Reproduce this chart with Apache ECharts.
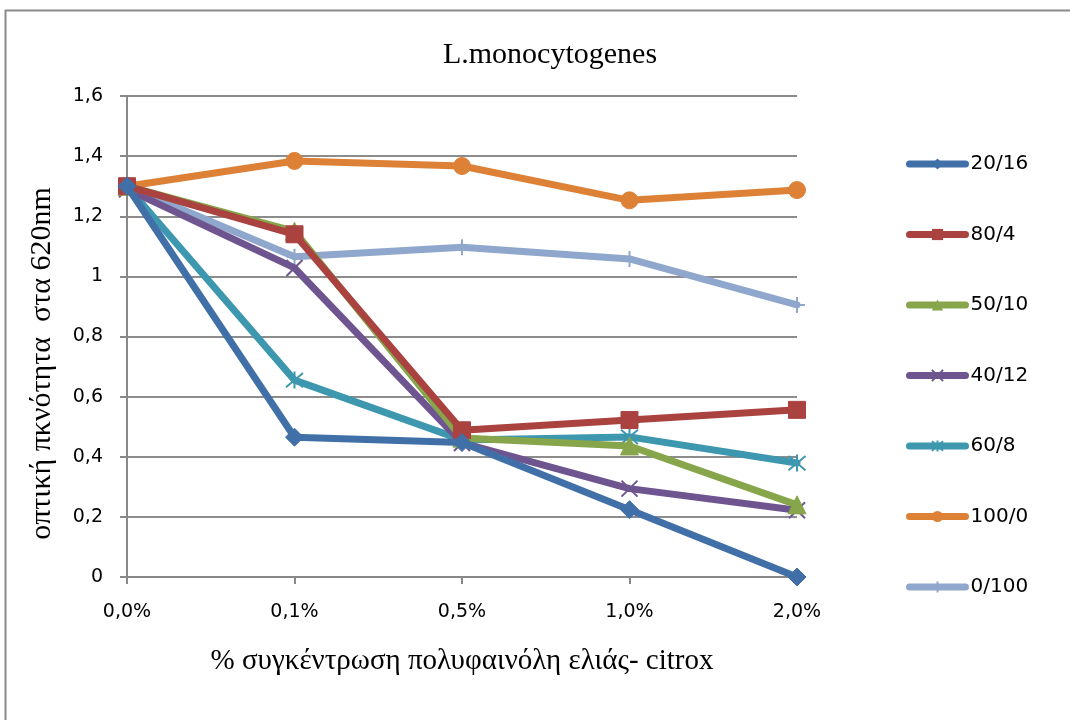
<!DOCTYPE html>
<html>
<head>
<meta charset="utf-8">
<script src="https://cdn.jsdelivr.net/npm/echarts@6/dist/echarts.min.js"></script>
<style>html,body{margin:0;padding:0;background:#fff}#c{width:1070px;height:720px}</style>
</head>
<body>
<div id="c"></div>
<script>
const categories = ['0,0%', '0,1%', '0,5%', '1,0%', '2,0%'];
const seriesNames = ['20/16', '80/4', '50/10', '40/12', '60/8', '100/0', '0/100'];
const s20_16 = [1.30, 0.465, 0.447, 0.224, 0.0];
const s80_4 = [1.30, 1.140, 0.488, 0.522, 0.556];
const s50_10 = [1.30, 1.150, 0.462, 0.436, 0.240];
const s40_12 = [1.29, 1.028, 0.446, 0.294, 0.222];
const s60_8 = [1.30, 0.655, 0.456, 0.466, 0.379];
const s100_0 = [1.30, 1.384, 1.367, 1.253, 1.287];
const s0_100 = [1.30, 1.065, 1.097, 1.058, 0.905];
const yTicks = [0, 0.2, 0.4, 0.6, 0.8, 1, 1.2, 1.4, 1.6];

const dataList = [s20_16, s80_4, s50_10, s40_12, s60_8, s100_0, s0_100];
const colors = ['#4170A8', '#AA4340', '#87A54A', '#6F558F', '#3D97AF', '#DD8136', '#8FA7CC'];
const xPath = 'path://M0,0L10,10M10,0L0,10';
const starPath = 'path://M0,0L10,10M10,0L0,10M5,-1L5,11';
const plusPath = 'path://M5,0L5,10M0,5L10,5';
const symbols = ['diamond', 'rect', 'triangle', xPath, starPath, 'circle', plusPath];
const sizes = [18, 17, 18, 16, 17, 17, 16];

const series = dataList.map((d, i) => {
  const isPath = symbols[i].startsWith('path://');
  return {
    name: seriesNames[i],
    type: 'line',
    data: d,
    symbol: symbols[i],
    symbolSize: sizes[i],
    showAllSymbol: true,
    z: 10 - i,
    lineStyle: { color: colors[i], width: 7, cap: 'round', join: 'round' },
    itemStyle: isPath ? { color: 'none', borderColor: colors[i], borderWidth: 2 } : { color: colors[i], borderColor: colors[i] },
    emphasis: { disabled: true },
    animation: false
  };
});

const chart = echarts.init(document.getElementById('c'));
chart.setOption({
  animation: false,
  color: colors,
  graphic: [{ type: 'rect', shape: { x: 5.5, y: 10.5, width: 1100, height: 800 }, style: { fill: 'none', stroke: '#8a8a8a', lineWidth: 2 }, z: -1 }],
  title: {
    text: 'L.monocytogenes', left: 545, top: 35, textAlign: 'center',
    textStyle: { fontFamily: 'Liberation Serif', fontWeight: 'normal', fontSize: 30, color: '#000' }
  },
  legend: {
    orient: 'vertical', left: 901, top: 149,
    itemWidth: 56, itemHeight: 14, itemGap: 50.5,
    lineStyle: { width: 7, cap: 'round' },
    textStyle: { fontFamily: 'DejaVu Sans', fontSize: 20, color: '#000', padding: [0, 0, 0, 0] },
    data: seriesNames
  },
  grid: { left: 127, right: 273, top: 96, bottom: 143 },
  xAxis: {
    type: 'category', data: categories, boundaryGap: false,
    name: '% συγκέντρωση πολυφαινόλη ελιάς- citrox', nameLocation: 'middle', nameGap: 70,
    nameTextStyle: { fontFamily: 'Liberation Serif', fontSize: 29, color: '#000' },
    axisLine: { lineStyle: { color: '#888', width: 2 } },
    axisTick: { show: true, alignWithLabel: true, length: 7, lineStyle: { color: '#888', width: 2 } },
    axisLabel: { fontFamily: 'DejaVu Sans', fontSize: 19, color: '#000', margin: 26 },
    splitLine: { show: false }
  },
  yAxis: {
    type: 'value', min: 0, max: 1.6, interval: 0.2,
    name: 'οπτική πκνότητα  στα 620nm', nameLocation: 'middle', nameGap: 70,
    nameTextStyle: { fontFamily: 'Liberation Serif', fontSize: 30, color: '#000', padding: [0, 54, 0, 0] },
    axisLine: { show: true, lineStyle: { color: '#888', width: 2 } },
    axisTick: { show: true, length: 7, lineStyle: { color: '#888', width: 2 } },
    axisLabel: {
      fontFamily: 'DejaVu Sans', fontSize: 19, color: '#000', margin: 24,
      formatter: v => { const t = yTicks.find(x => Math.abs(x - v) < 1e-6); return (t === undefined ? v : t).toString().replace('.', ','); }
    },
    splitLine: { lineStyle: { color: '#8c8c8c', width: 2 } }
  },
  series: series
});
</script>
</body>
</html>
